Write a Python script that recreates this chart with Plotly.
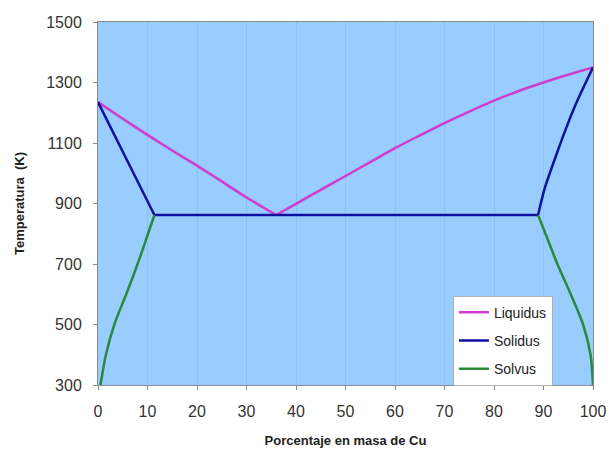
import plotly.graph_objects as go

# Liquidus: left and right branches meeting at the eutectic
liq_left_x = [0, 5, 10, 15, 20, 25, 30, 36]
liq_left_y = [1235, 1180, 1127, 1075, 1025, 973, 920, 862]
liq_right_x = [36, 40, 45, 50, 55, 60, 65, 70, 75, 80, 85, 90, 95, 100]
liq_right_y = [862, 899, 945, 991, 1037, 1083, 1125, 1166, 1204, 1240, 1272, 1300, 1326, 1350]

# Solidus: left branch + eutectic line, then right branch
sol_left_x = [0, 11.4, 88.9]
sol_left_y = [1235, 862, 862]
sol_right_x = [88.9, 90.3, 92.7, 94.6, 96.6, 98.4, 100]
sol_right_y = [862, 953, 1066, 1150, 1231, 1295, 1350]

# Solvus left and right branches
solv_left_x = [0.5, 1.6, 3.3, 5.7, 8.0, 10.1, 11.4]
solv_left_y = [300, 400, 500, 600, 700, 800, 862]
solv_right_x = [88.9, 90.4, 92.8, 95.5, 98.0, 99.5, 100]
solv_right_y = [862, 800, 700, 600, 500, 400, 300]

x_ticks = [0, 10, 20, 30, 40, 50, 60, 70, 80, 90, 100]
y_ticks = [300, 500, 700, 900, 1100, 1300, 1500]

font = "Liberation Sans, Arial, sans-serif"
C_LIQ, C_SOL, C_SOLV = "#D03CD0", "#10109E", "#2A8A3C"
W = 2.5

fig = go.Figure()
fig.add_trace(go.Scatter(x=liq_left_x, y=liq_left_y, mode="lines", name="Liquidus",
                         legendgroup="liq", line=dict(color=C_LIQ, width=W, shape="spline", smoothing=0.6)))
fig.add_trace(go.Scatter(x=liq_right_x, y=liq_right_y, mode="lines", name="Liquidus",
                         legendgroup="liq", showlegend=False,
                         line=dict(color=C_LIQ, width=W, shape="spline", smoothing=0.8)))
fig.add_trace(go.Scatter(x=sol_left_x, y=sol_left_y, mode="lines", name="Solidus",
                         legendgroup="sol", line=dict(color=C_SOL, width=W)))
fig.add_trace(go.Scatter(x=sol_right_x, y=sol_right_y, mode="lines", name="Solidus",
                         legendgroup="sol", showlegend=False,
                         line=dict(color=C_SOL, width=W, shape="spline", smoothing=0.8)))
fig.add_trace(go.Scatter(x=solv_left_x, y=solv_left_y, mode="lines", name="Solvus",
                         legendgroup="solv", line=dict(color=C_SOLV, width=W, shape="spline", smoothing=0.8)))
fig.add_trace(go.Scatter(x=solv_right_x, y=solv_right_y, mode="lines", name="Solvus",
                         legendgroup="solv", showlegend=False,
                         line=dict(color=C_SOLV, width=W, shape="spline", smoothing=0.8)))

fig.update_layout(
    width=610, height=452,
    margin=dict(l=98, r=17, t=22, b=67),
    paper_bgcolor="white",
    plot_bgcolor="#99CCFF",
    font=dict(family=font, size=16, color="#333333"),
    showlegend=True,
    legend=dict(x=0.717, y=0.246, xanchor="left", yanchor="top",
                bgcolor="white", bordercolor="#B0B0B0", borderwidth=1,
                font=dict(size=14, color="#222222"), tracegroupgap=7,
                itemwidth=30),
    xaxis=dict(range=[0, 100], tickvals=x_ticks, ticktext=[str(v) for v in x_ticks],
               showgrid=True, gridcolor="#8EC1F0", gridwidth=1, automargin=False,
               zeroline=False, showline=True, linecolor="#8A8A8A", linewidth=1,
               mirror=True, ticks="outside", ticklen=4, tickcolor="#8A8A8A",
               ticklabelstandoff=8,
               title=dict(text="<b>Porcentaje en masa de Cu</b>", font=dict(size=13, color="#222222"),
                          standoff=16)),
    yaxis=dict(range=[300, 1500], tickvals=y_ticks, ticktext=[str(v) for v in y_ticks],
               showgrid=False, zeroline=False, showline=True, linecolor="#8A8A8A", linewidth=1,
               mirror=True, ticks="outside", ticklen=4, tickcolor="#8A8A8A", automargin=False,
               ticklabelstandoff=8,
               title=dict(text="<b>Temperatura  (K)</b>", font=dict(size=13, color="#222222"),
                          standoff=18)),
)

fig.write_html("out.html", config={"displayModeBar": False},
               post_script="document.body.style.margin='0';document.body.style.overflow='hidden';")
